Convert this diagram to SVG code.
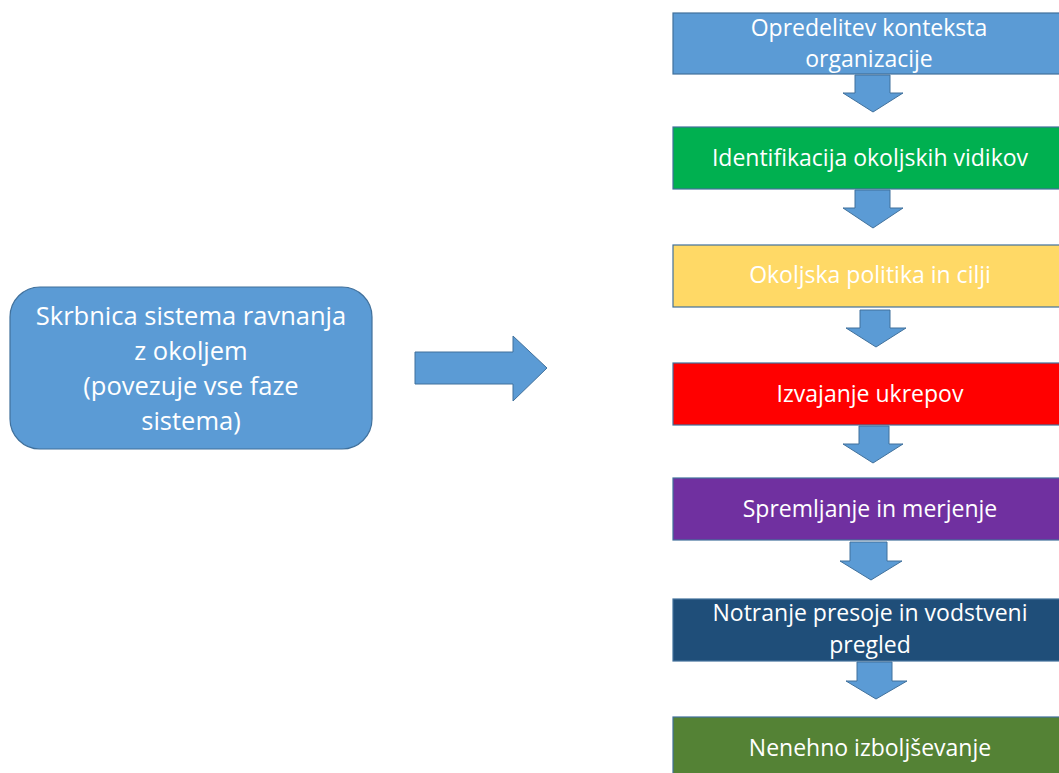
<svg xmlns="http://www.w3.org/2000/svg" width="1059" height="773" viewBox="0 0 1059 773">
<style>
.box{stroke:#41719C;stroke-width:1.2}
.arr{fill:#5B9BD5;stroke:#41719C;stroke-width:1}
.t{font-family:"Open Sans","Liberation Sans",Arial,sans-serif;fill:#fff;text-anchor:middle}
.rt{font-size:23px}
.lt{font-size:25.5px}
</style>
<rect width="1059" height="773" fill="#fff"/>
<g id="left">
<rect class="box" x="10" y="287" width="362" height="162" rx="30" fill="#5B9BD5"/>
<text class="t lt" x="191" y="325">Skrbnica sistema ravnanja</text>
<text class="t lt" x="191" y="360">z okoljem</text>
<text class="t lt" x="191" y="395">(povezuje vse faze</text>
<text class="t lt" x="191" y="430">sistema)</text>
</g>
<g id="connectors">
<polygon class="arr" points="415,352 513,352 513,336 547,368 513,401 513,384 415,384"/>
<polygon class="arr" points="855,75 890,75 890,93 903,93 873,112 843,93 855,93"/>
<polygon class="arr" points="855,190 890,190 890,208 903,208 873,228 843,208 855,208"/>
<polygon class="arr" points="860,310 890,310 890,328 906,328 876,347 846,328 860,328"/>
<polygon class="arr" points="859,426 889,426 889,444 903,444 873,463 843,444 859,444"/>
<polygon class="arr" points="850,542 887,542 887,561 902,561 871,580 840,561 850,561"/>
<polygon class="arr" points="857,662 892,662 892,681 907,681 876,699 846,681 857,681"/>
</g>
<g id="n1">
<rect class="box" x="673" y="13" width="390" height="61" fill="#5B9BD5"/>
<text class="t rt" x="869" y="36">Opredelitev konteksta</text>
<text class="t rt" x="869" y="67">organizacije</text>
</g>
<g id="n2">
<rect class="box" x="673" y="127" width="390" height="62" fill="#00B050"/>
<text class="t rt" x="870" y="166">Identifikacija okoljskih vidikov</text>
</g>
<g id="n3">
<rect class="box" x="673" y="245" width="390" height="62" fill="#FFD966"/>
<text class="t rt" x="870" y="283">Okoljska politika in cilji</text>
</g>
<g id="n4">
<rect class="box" x="673" y="363" width="390" height="62" fill="#FF0000"/>
<text class="t rt" x="870" y="402">Izvajanje ukrepov</text>
</g>
<g id="n5">
<rect class="box" x="673" y="478" width="390" height="62" fill="#7030A0"/>
<text class="t rt" x="870" y="517">Spremljanje in merjenje</text>
</g>
<g id="n6">
<rect class="box" x="673" y="599" width="390" height="62" fill="#1F4E79"/>
<text class="t rt" x="870" y="621">Notranje presoje in vodstveni</text>
<text class="t rt" x="870" y="653">pregled</text>
</g>
<g id="n7">
<rect class="box" x="673" y="717" width="390" height="62" fill="#548235"/>
<text class="t rt" x="870" y="756">Nenehno izboljševanje</text>
</g>
</svg>
